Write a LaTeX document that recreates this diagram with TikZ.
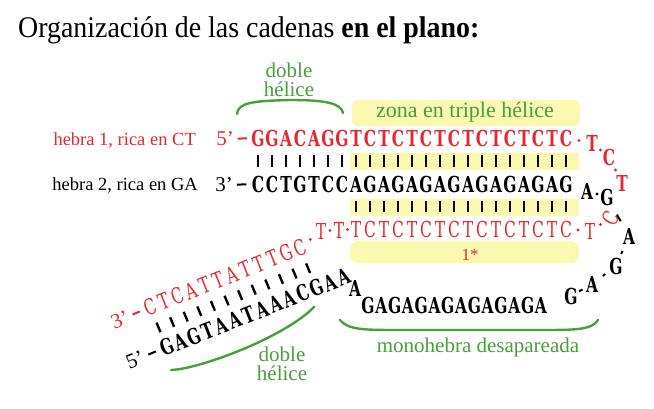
\documentclass[tikz,border=0pt]{standalone}
\usepackage{fontspec}
\setmainfont{Liberation Serif}
\newfontfamily\basefont{DejaVu Serif Condensed}[FakeStretch=0.78]
\usetikzlibrary{calc}
\definecolor{hebrared}{RGB}{228,40,48}
\definecolor{labelgreen}{RGB}{70,160,58}
\definecolor{zonayellow}{RGB}{251,249,176}

\begin{document}
\begin{tikzpicture}[x=1pt,y=-1pt,
    base/.style={font=\basefont\bfseries\fontsize{22}{22}\selectfont, inner sep=0pt},
    thinbase/.style={font=\basefont\fontsize{22}{22}\selectfont, inner sep=0pt},
    hebra/.style={font=\fontsize{18.5}{20}\selectfont, inner sep=0pt},
    prime/.style={font=\fontsize{21}{21}\selectfont, inner sep=0pt},
    greenlabel/.style={font=\fontsize{21}{19}\selectfont, text=labelgreen, inner sep=0pt, align=center},
    pair/.style={line width=2.8pt},
    link/.style={line width=2pt},
    brace/.style={labelgreen, line width=2.4pt, line cap=round},
    zona/.style={fill=zonayellow}]

\useasboundingbox (0,0) rectangle (654,408);

% title
\node[anchor=base west, inner sep=0pt, xscale=0.93, font=\fontsize{30}{30}\selectfont] (title) at (18,37)
    {Organización de las cadenas \textbf{en el plano:}};

% triple helix zone
\fill[zona, rounded corners=6pt] (352,100) rectangle (580,126);
\fill[zona] (350,153) rectangle (579,170);
\fill[zona] (350,199) rectangle (579,216);
\fill[zona, rounded corners=8pt] (350,241) rectangle (579,263);
\node[greenlabel, font=\fontsize{22}{22}\selectfont] (zona) at (465,112) {zona en triple hélice};
\node[hebra, hebrared, font=\fontsize{17}{17}\selectfont] (uno) at (470,255) {1*};

% strand labels
\node[hebra, hebrared, anchor=base east] (h1) at (196,145) {hebra 1, rica en CT};
\node[hebra, anchor=base east] (h2) at (198,190) {hebra 2, rica en GA};
\node[prime, hebrared] (p5) at (225,139) {5’};
\node[prime] (p3) at (224,185) {3’};

% hebra 1 (top row)
\foreach \l [count=\i] in {G,G,A,C,A,G,G,T,C,T,C,T,C,T,C,T,C,T,C,T,C,T,C} {
    \node[base, hebrared] (r1-\i) at ({258+14*(\i-1)},138) {\l};
}
% hebra 2 (middle row)
\foreach \l [count=\i] in {C,C,T,G,T,C,C,A,G,A,G,A,G,A,G,A,G,A,G,A,G,A,G} {
    \node[base] (r2-\i) at ({258+14*(\i-1)},184) {\l};
}
% hebra 1 folded back (bottom row)
\foreach \l [count=\i from 8] in {T,C,T,C,T,C,T,C,T,C,T,C,T,C,T,C} {
    \node[thinbase, hebrared] (r3-\i) at ({258+14*(\i-1)},229) {\l};
}

% base pairs
\foreach \i in {1,...,23} {
    \draw[pair] ($(r1-\i)!0.37!(r2-\i)$) -- ($(r1-\i)!0.63!(r2-\i)$);
}
\foreach \i in {8,...,23} {
    \draw[pair] ($(r2-\i)!0.37!(r3-\i)$) -- ($(r2-\i)!0.63!(r3-\i)$);
}
\draw[link, hebrared] ($(p5)!0.38!(r1-1)$) -- ($(p5)!0.66!(r1-1)$);
\draw[link] ($(p3)!0.38!(r2-1)$) -- ($(p3)!0.66!(r2-1)$);

% red loop
\node[base, hebrared] (lr1) at (592,143) {T};
\node[base, hebrared] (lr2) at (609,157) {C};
\node[base, hebrared] (lr3) at (622,183) {T};
\node[thinbase, hebrared, rotate=60] (lr4) at (611,218) {C};
\node[thinbase, hebrared] (lr5) at (590,231) {T};
\foreach \a/\b in {r1-23/lr1, lr1/lr2, lr2/lr3, r3-23/lr5, lr5/lr4} {
    \fill[hebrared] ($(\a)!0.5!(\b)$) circle (1.6);
}

% black loop
\node[base] (lb1) at (587,191) {A};
\node[base] (lb2) at (607,197) {G};
\node[base] (lb3) at (629,236) {A};
\node[base] (lb4) at (616,266) {G};
\node[base] (lb5) at (592,284) {A};
\node[base] (lb6) at (571,296) {G};
\fill ($(lb1)!0.5!(lb2)$) circle (1.6);
\draw[link] ($(lb2)!0.45!(lb3)$) -- ($(lb2)!0.62!(lb3)$);
\draw[link] ($(lb3)!0.5!(lb4)$) -- ($(lb3)!0.6!(lb4)$);
\draw[link] ($(lb4)!0.45!(lb5)$) -- ($(lb4)!0.55!(lb5)$);
\draw[link] ($(lb5)!0.45!(lb6)$) -- ($(lb5)!0.62!(lb6)$);

% single strand (bottom)
\foreach \l [count=\i] in {G,A,G,A,G,A,G,A,G,A,G,A,G,A} {
    \node[base] (b-\i) at ({368+13.3*(\i-1)},305) {\l};
}
\node[base] (ba) at (355,288) {A};

% diagonal double helix
\foreach \l [count=\i] in {C,T,C,A,T,T,A,T,T,T,G,C} {
    \node[thinbase, hebrared, rotate=21.6] (d1-\i) at ({150+13.6*(\i-1)},{307-5.38*(\i-1)}) {\l};
}
\foreach \l [count=\i] in {G,A,G,T,A,A,T,A,A,A,C,G,A,A} {
    \node[base, rotate=21.6] (d2-\i) at ({166.7+13.6*(\i-1)},{347-5.38*(\i-1)}) {\l};
}
\foreach \i in {1,...,12} {
    \draw[pair, line width=2.4pt] ($(d1-\i)!0.39!(d2-\i)$) -- ($(d1-\i)!0.63!(d2-\i)$);
}
\node[prime, hebrared, rotate=21.6] (q3) at (120,320) {3’};
\node[prime, rotate=21.6] (q5) at (135,360) {5’};
\draw[link, hebrared] ($(q3)!0.42!(d1-1)$) -- ($(q3)!0.66!(d1-1)$);
\draw[link] ($(q5)!0.42!(d2-1)$) -- ($(q5)!0.66!(d2-1)$);

% red link into the triple helix
\node[thinbase, hebrared] (t1) at (321,231) {T};
\node[thinbase, hebrared] (t2) at (339,230) {T};
\foreach \a/\b in {d1-12/t1, t1/t2, t2/r3-8} {
    \fill[hebrared] ($(\a)!0.5!(\b)$) circle (1.6);
}

% braces and labels
\draw[brace] (237,114) .. controls (238,102) and (255,101) .. (290,100) .. controls (325,100) and (341,103) .. (343,113);
\node[greenlabel] (dh1) at (289,80) {doble\\hélice};
\draw[brace] (171,370) .. controls (200,369) and (285,337) .. (314,307);
\node[greenlabel] (dh2) at (282,364) {doble\\hélice};
\draw[brace] (340,320) .. controls (348,330) and (365,330) .. (400,330) -- (540,330) .. controls (575,330) and (592,330) .. (598,320);
\node[greenlabel] (mono) at (478,347) {monohebra desapareada};

\end{tikzpicture}
\end{document}
